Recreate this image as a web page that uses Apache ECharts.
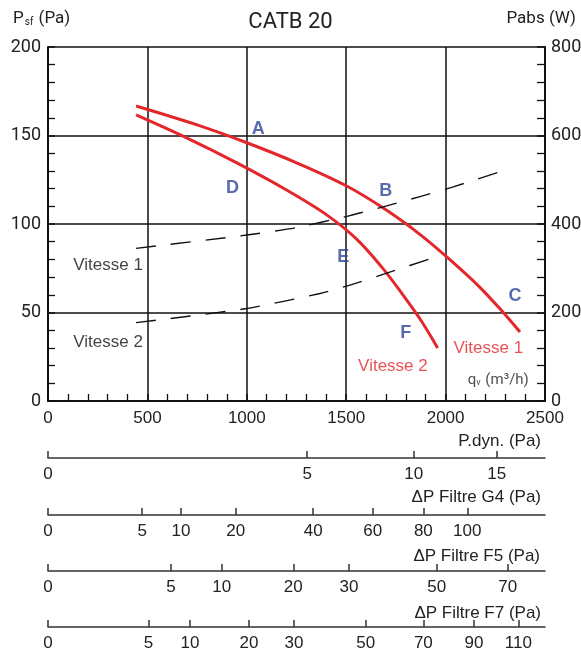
<!DOCTYPE html>
<html>
<head>
<meta charset="utf-8">
<script src="https://cdn.jsdelivr.net/npm/echarts@6/dist/echarts.min.js"></script>
<style>
html,body{margin:0;padding:0;background:#fff;}
#c{width:581px;height:651px;}
</style>
</head>
<body>
<div id="c"></div>
<script>
// ---- Data ----
const v1Flow = [443, 750, 1000, 1250, 1500, 1700, 1880, 2030, 2170, 2290, 2374];
const v1Pressure = [166.7, 156, 145.9, 134.6, 121.6, 108, 93.3, 79, 64.5, 50, 39];
const v2Flow = [443, 700, 950, 1200, 1400, 1550, 1680, 1780, 1870, 1960];
const v2Pressure = [161.6, 148.5, 134.5, 119.2, 105.3, 91.7, 75.5, 60.8, 46.6, 30];
const v1PowerFlow = [443, 1000, 1250, 1519, 1704, 1871, 2039, 2300];
const v1Power = [345, 375, 392, 419, 441, 462, 484, 522];
const v2PowerFlow = [443, 1000, 1368, 1519, 1704, 1947];
const v2Power = [177, 209, 243, 262, 289, 325];

const pointNames = ['A', 'B', 'C', 'D', 'E', 'F'];
const pointFlow = [1058, 1699, 2349, 928, 1485, 1799];
const pointPressure = [153.5, 118.8, 59.3, 120.3, 81.2, 38.5];

const blackNotes = ['Vitesse 1', 'Vitesse 2'];
const blackNoteFlow = [302, 302];
const blackNotePressure = [76.8, 33.3];
const redNotes = ['Vitesse 1', 'Vitesse 2'];
const redNoteFlow = [2215, 1735];
const redNotePressure = [29.8, 19.4];
const unitNoteFlow = [2265];
const unitNotePressure = [11.9];

const pdynTicks = ['0', '5', '10', '15'];
const pdynFlow = [0, 1304, 1840, 2257];
const g4Ticks = ['0', '5', '10', '20', '40', '60', '80', '100'];
const g4Flow = [0, 474, 669, 944, 1334, 1633, 1888, 2109];
const f5Ticks = ['0', '5', '10', '20', '30', '50', '70'];
const f5Flow = [0, 619, 874, 1234, 1514, 1955, 2312];
const f7Ticks = ['0', '5', '10', '20', '30', '50', '70', '90', '110'];
const f7Flow = [0, 505, 714, 1011, 1237, 1598, 1888, 2143, 2366];

// ---- Chart ----
const RED = '#e3272b';
const BLUE = '#2f4597';
const ARIAL = '"Liberation Sans", Arial, sans-serif';
const DIN = 'Roboto, "Liberation Sans", sans-serif';
const zip = (a, b) => a.map((v, i) => [v, b[i]]);
const plain = v => String(v);

function extraAxis(flows, labels, offset) {
  return {
    type: 'value', gridIndex: 0, position: 'bottom', offset: offset,
    min: 0, max: 2500,
    axisLine: { show: true, onZero: false, lineStyle: { color: '#333', width: 1.5 } },
    axisTick: { show: true, inside: true, length: 7, customValues: flows, lineStyle: { color: '#333', width: 1.5 } },
    axisLabel: {
      show: true, customValues: flows, margin: 8,
      fontFamily: ARIAL, fontSize: 17, color: '#222',
      formatter: v => labels[flows.indexOf(v)]
    },
    splitLine: { show: false }, minorTick: { show: false }
  };
}

const chart = echarts.init(document.getElementById('c'), null, { renderer: 'canvas' });
const option = {
  animation: false,
  backgroundColor: '#fff',
  title: {
    text: 'CATB 20', left: 'center', top: 6,
    textStyle: { fontFamily: DIN, fontSize: 22, fontWeight: 'normal', color: '#222' }
  },
  grid: { left: 48, top: 47, right: 36, bottom: 250, containLabel: false, outerBoundsMode: 'none' },
  xAxis: [
    {
      type: 'value', min: 0, max: 2500, interval: 500, position: 'bottom',
      axisLine: { show: true, onZero: false, lineStyle: { color: '#111', width: 2 } },
      axisTick: { show: true, inside: true, length: 7, lineStyle: { color: '#111', width: 1.5 } },
      minorTick: { show: true, splitNumber: 5, length: 7, lineStyle: { color: '#111', width: 1.3 } },
      axisLabel: { margin: 9, fontFamily: ARIAL, fontSize: 17, color: '#222', showMinLabel: true, showMaxLabel: true, formatter: plain },
      splitLine: { show: true, lineStyle: { color: '#111', width: 1.5 } }
    },
    extraAxis(pdynFlow, pdynTicks, 57),
    extraAxis(g4Flow, g4Ticks, 114),
    extraAxis(f5Flow, f5Ticks, 170),
    extraAxis(f7Flow, f7Ticks, 226)
  ],
  yAxis: [
    {
      type: 'value', min: 0, max: 200, interval: 50, position: 'left',
      axisLine: { show: true, onZero: false, lineStyle: { color: '#111', width: 2 } },
      axisTick: { show: true, inside: true, length: 7, lineStyle: { color: '#111', width: 1.5 } },
      minorTick: { show: true, splitNumber: 5, length: 7, lineStyle: { color: '#111', width: 1.3 } },
      axisLabel: { margin: 7, fontFamily: DIN, fontSize: 18, color: '#222', showMinLabel: true, showMaxLabel: true, formatter: plain },
      splitLine: { show: true, lineStyle: { color: '#111', width: 1.5 } }
    },
    {
      type: 'value', min: 0, max: 800, interval: 200, position: 'right',
      axisLine: { show: true, onZero: false, lineStyle: { color: '#111', width: 2 } },
      axisTick: { show: true, inside: true, length: 8, lineStyle: { color: '#111', width: 1.5 } },
      minorTick: { show: true, splitNumber: 5, length: 8, lineStyle: { color: '#111', width: 1.3 } },
      axisLabel: { margin: 6, fontFamily: DIN, fontSize: 18, color: '#222', showMinLabel: true, showMaxLabel: true, formatter: plain },
      splitLine: { show: false }
    }
  ],
  graphic: [
    { type: 'text', left: 13, top: 10, style: {
        text: '{p|P}{s|sf}{p| (Pa)}',
        rich: {
          p: { fontFamily: DIN, fontSize: 17, fill: '#222', verticalAlign: 'bottom' },
          s: { fontFamily: DIN, fontSize: 10, fill: '#222', verticalAlign: 'bottom', padding: [0, 1, 0, 1] }
        }
    } },
    { type: 'text', right: 5, top: 10, style: { text: 'Pabs (W)', fontFamily: DIN, fontSize: 17, fill: '#222' } },
    { type: 'text', right: 40, top: 433, style: { text: 'P.dyn. (Pa)', fontFamily: ARIAL, fontSize: 17, fill: '#222' } },
    { type: 'text', right: 40, top: 489, style: { text: 'ΔP Filtre G4 (Pa)', fontFamily: ARIAL, fontSize: 17, fill: '#222' } },
    { type: 'text', right: 41, top: 548, style: { text: 'ΔP Filtre F5 (Pa)', fontFamily: ARIAL, fontSize: 17, fill: '#222' } },
    { type: 'text', right: 40, top: 605, style: { text: 'ΔP Filtre F7 (Pa)', fontFamily: ARIAL, fontSize: 17, fill: '#222' } }
  ],
  series: [
    { name: 'Vitesse 1', type: 'line', xAxisIndex: 0, yAxisIndex: 0, data: zip(v1Flow, v1Pressure),
      smooth: 0.35, symbol: 'none', silent: true, lineStyle: { color: RED, width: 3 } },
    { name: 'Vitesse 2', type: 'line', xAxisIndex: 0, yAxisIndex: 0, data: zip(v2Flow, v2Pressure),
      smooth: 0.35, symbol: 'none', silent: true, lineStyle: { color: RED, width: 3 } },
    { name: 'Pabs 1', type: 'line', xAxisIndex: 0, yAxisIndex: 1, data: zip(v1PowerFlow, v1Power),
      smooth: 0.2, symbol: 'none', silent: true, lineStyle: { color: '#111', width: 1.4, type: [20, 15] } },
    { name: 'Pabs 2', type: 'line', xAxisIndex: 0, yAxisIndex: 1, data: zip(v2PowerFlow, v2Power),
      smooth: 0.2, symbol: 'none', silent: true, lineStyle: { color: '#111', width: 1.4, type: [20, 15] } },
    { type: 'scatter', xAxisIndex: 0, yAxisIndex: 0, silent: true, symbolSize: 1,
      itemStyle: { color: 'rgba(0,0,0,0)' },
      data: pointNames.map((n, i) => ({ name: n, value: [pointFlow[i], pointPressure[i]] })),
      label: { show: true, position: 'inside', formatter: '{b}', fontFamily: ARIAL, fontWeight: 'bold', fontSize: 18, color: BLUE } },
    { type: 'scatter', xAxisIndex: 0, yAxisIndex: 0, silent: true, symbolSize: 1,
      itemStyle: { color: 'rgba(0,0,0,0)' },
      data: blackNotes.map((n, i) => ({ name: n, value: [blackNoteFlow[i], blackNotePressure[i]] })),
      label: { show: true, position: 'inside', formatter: '{b}', fontFamily: ARIAL, fontSize: 17, color: '#111' } },
    { type: 'scatter', xAxisIndex: 0, yAxisIndex: 0, silent: true, symbolSize: 1,
      itemStyle: { color: 'rgba(0,0,0,0)' },
      data: redNotes.map((n, i) => ({ name: n, value: [redNoteFlow[i], redNotePressure[i]] })),
      label: { show: true, position: 'inside', formatter: '{b}', fontFamily: ARIAL, fontSize: 17, color: RED } },
    { type: 'scatter', xAxisIndex: 0, yAxisIndex: 0, silent: true, symbolSize: 1,
      itemStyle: { color: 'rgba(0,0,0,0)' },
      data: unitNoteFlow.map((q, i) => ({ name: 'qv', value: [q, unitNotePressure[i]] })),
      label: { show: true, position: 'inside',
        formatter: '{a|q}{b|v}{a| (m³/h)}',
        rich: {
          a: { fontFamily: DIN, fontSize: 15, color: '#222' },
          b: { fontFamily: DIN, fontSize: 9, color: '#222', padding: [5, 1, 0, 0] }
        } } }
  ]
};
chart.setOption(option);
</script>
</body>
</html>
